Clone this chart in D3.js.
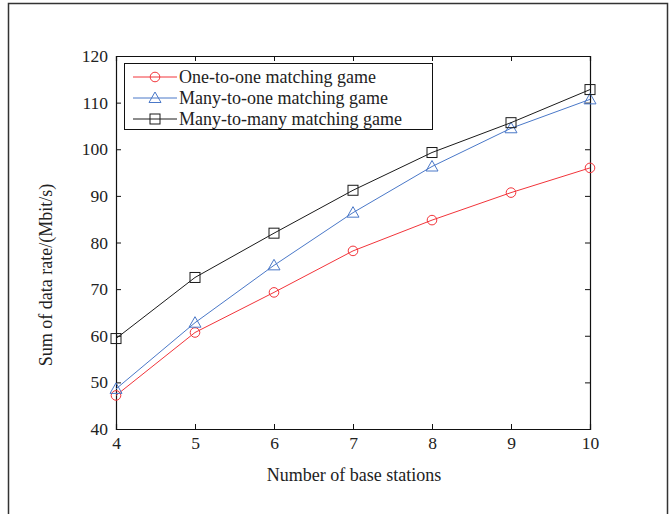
<!DOCTYPE html>
<html>
<head>
<meta charset="utf-8">
<script src="https://cdn.jsdelivr.net/npm/d3@7/dist/d3.min.js"></script>
<style>
  html, body { margin: 0; padding: 0; background: #fff; }
  svg text { font-family: "Liberation Serif", "Times New Roman", serif; fill: #222; }
</style>
</head>
<body>
<script>
// data
const stations = [4, 5, 6, 7, 8, 9, 10];
const oneToOne = [47.2, 60.7, 69.3, 78.2, 84.8, 90.7, 96.0];
const manyToOne = [48.6, 62.8, 75.1, 86.4, 96.3, 104.5, 110.7];
const manyToMany = [59.4, 72.5, 82.0, 91.2, 99.3, 105.7, 112.8];
const yTicks = [40, 50, 60, 70, 80, 90, 100, 110, 120];

const series = [
  { name: "One-to-one matching game", values: oneToOne, color: "#f2343a", marker: "circle" },
  { name: "Many-to-one matching game", values: manyToOne, color: "#4a78c8", marker: "triangle" },
  { name: "Many-to-many matching game", values: manyToMany, color: "#1a1a1a", marker: "square" },
];

const W = 672, H = 514;
const M = { left: 116, right: 590, top: 56, bottom: 429 };

const svg = d3.select("body").append("svg").attr("width", W).attr("height", H);

// outer frame (open at bottom)
svg.append("path")
  .attr("d", `M8.5,${H} L8.5,3.5 L667.5,3.5 L667.5,${H}`)
  .attr("fill", "none").attr("stroke", "#333").attr("stroke-width", 1.5);

const x = d3.scaleLinear().domain([4, 10]).range([M.left, M.right]);
const y = d3.scaleLinear().domain([40, 120]).range([M.bottom, M.top]);

const tickLen = 5;
// bottom axis
const gx = svg.append("g").attr("transform", `translate(0,${M.bottom})`)
  .call(d3.axisBottom(x).tickValues(stations).tickSize(-tickLen).tickPadding(8).tickFormat(d3.format("d")));
// left axis
const gy = svg.append("g").attr("transform", `translate(${M.left},0)`)
  .call(d3.axisLeft(y).tickValues(yTicks).tickSize(-tickLen).tickPadding(8));
// top & right mirror ticks
const gt = svg.append("g").attr("transform", `translate(0,${M.top})`)
  .call(d3.axisTop(x).tickValues(stations).tickSize(-tickLen).tickFormat(""));
const gr = svg.append("g").attr("transform", `translate(${M.right},0)`)
  .call(d3.axisRight(y).tickValues(yTicks).tickSize(-tickLen).tickFormat(""));

[gx, gy, gt, gr].forEach(g => {
  g.select(".domain").attr("stroke", "#111").attr("stroke-width", 1.2);
  g.selectAll(".tick line").attr("stroke", "#111");
  g.selectAll(".tick text").attr("font-size", 17.5).attr("fill", "#222")
    .attr("font-family", "Liberation Serif, serif");
});

// axis labels
svg.append("text").attr("x", 354).attr("y", 481)
  .attr("text-anchor", "middle").attr("font-size", 18).text("Number of base stations");
svg.append("text").attr("transform", `translate(52,275) rotate(-90)`)
  .attr("text-anchor", "middle").attr("font-size", 18).text("Sum of data rate/(Mbit/s)");

const line = d3.line().x((d, i) => x(stations[i])).y(d => y(d));

function drawMarker(g, type, cx, cy, color) {
  if (type === "circle") {
    g.append("circle").attr("cx", cx).attr("cy", cy).attr("r", 4.8)
      .attr("fill", "none").attr("stroke", color).attr("stroke-width", 1);
  } else if (type === "triangle") {
    const s = 6;
    g.append("path")
      .attr("d", `M${cx},${cy - s} L${cx + s},${cy + s * 0.75} L${cx - s},${cy + s * 0.75} Z`)
      .attr("fill", "none").attr("stroke", color).attr("stroke-width", 1);
  } else {
    const s = 5;
    g.append("rect").attr("x", cx - s).attr("y", cy - s).attr("width", 2 * s).attr("height", 2 * s)
      .attr("fill", "none").attr("stroke", color).attr("stroke-width", 1);
  }
}

series.forEach(s => {
  const g = svg.append("g");
  g.append("path").datum(s.values).attr("d", line)
    .attr("fill", "none").attr("stroke", s.color).attr("stroke-width", 1);
  s.values.forEach((v, i) => drawMarker(g, s.marker, x(stations[i]), y(v), s.color));
});

// legend
const lg = svg.append("g");
lg.append("rect").attr("x", 124.5).attr("y", 63.5).attr("width", 308).attr("height", 66)
  .attr("fill", "#fff").attr("stroke", "#111").attr("stroke-width", 1);
series.forEach((s, i) => {
  const ly = 77 + i * 21;
  lg.append("line").attr("x1", 133).attr("x2", 177).attr("y1", ly).attr("y2", ly)
    .attr("stroke", s.color).attr("stroke-width", 1);
  drawMarker(lg, s.marker, 155, ly, s.color);
  lg.append("text").attr("x", 179).attr("y", ly + 6).attr("font-size", 18).text(s.name);
});
</script>
</body>
</html>
